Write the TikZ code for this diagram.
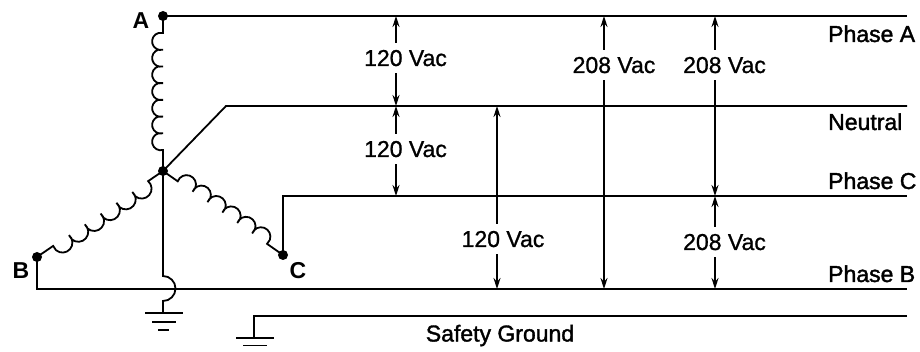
\documentclass[tikz,border=0pt]{standalone}
\usepackage{fontspec}
\setmainfont{Liberation Sans}
\newfontfamily\voltfont[FakeBold=1]{Liberation Sans}
\newfontfamily\medfont[FakeBold=1.6]{Liberation Sans}
\newfontfamily\termfont{Liberation Sans Bold}
\usetikzlibrary{arrows.meta,calc}
\begin{document}
\begin{tikzpicture}[x=1pt,y=-1pt,
  wire/.style={line width=1.8pt, line join=miter},
  dot/.style={circle, fill, inner sep=0pt, minimum size=10pt},
  term/.style={font=\termfont\fontsize{23}{27}\selectfont, inner sep=0pt, anchor=base},
  volt/.style={font=\voltfont\fontsize{23}{27}\selectfont, inner xsep=0pt, inner ysep=7pt, anchor=base},
  busname/.style={font=\medfont\fontsize{23}{27}\selectfont, inner sep=0pt, anchor=base west},
  meas/.style={line width=1.5pt, -{Stealth[length=11pt,width=7pt]}},
  gndbar/.style={line width=1.8pt}]
\useasboundingbox (0,0) rectangle (920,352);
% terminals
\node[dot] (A) at (163,16) {};
\node[dot] (N) at (163,171) {};
\node[dot] (B) at (37,257) {};
\node[dot] (C) at (283,255) {};
\node[term] (lA) at (141,29) {A};
\node[term] (lB) at (21,279) {B};
\node[term] (lC) at (298,279) {C};
% bus ends
\coordinate (busA) at (907,16);
\coordinate (busN) at (907,106);
\coordinate (busC) at (907,196);
\coordinate (busB) at (907,289);
\coordinate (busG) at (907,316);
\coordinate (nk) at (226,106);
\coordinate (ck) at (283,196);
\coordinate (bk) at (37,289);
\coordinate (gk) at (254,316);
\coordinate (gs) at (254,338);
% coils
\coordinate (pA) at (163,150);
\coordinate (pB) at ($(N)!18pt!(B)$);
\coordinate (pC) at ($(N)!18pt!(C)$);
\draw[wire] (N.center) -- (pA) foreach \i in {1,...,7} {arc[start angle=75, end angle=285, radius=8.652]} -- (A.center);
\draw[wire] (N.center) -- (pC) foreach \i in {1,...,6} {arc[start angle=200, end angle=410, radius=9.404]} -- (C.center);
\draw[wire] (N.center) -- (pB) foreach \i in {1,...,6} {arc[start angle=310.7, end angle=520.7, radius=9.921]} -- (B.center);
% buses
\draw[wire] (A.center) -- (busA);
\draw[wire] (N.center) -- (nk) -- (busN);
\draw[wire] (C.center) -- (ck) -- (busC);
\draw[wire] (B.center) -- (bk) -- (busB);
\draw[wire] (busG) -- (gk) -- (gs);
\draw[gndbar] (236,338) -- (274,338);
\draw[gndbar] (243,345.5) -- (267,345.5);
% neutral to ground with jump
\coordinate (j1) at (163,276);
\coordinate (ng) at (163,313);
\draw[wire] (N.center) -- (j1) arc[start angle=270, end angle=450, radius=12.5] -- (ng);
\draw[gndbar] (145,313) -- (183,313);
\draw[gndbar] (152,322) -- (176,322);
\draw[gndbar] (158,330) -- (169,330);
% bus names
\node[busname] (nA) at (828,42) {Phase A};
\node[busname] (nN) at (828,130) {Neutral};
\node[busname] (nC) at (828,189) {Phase C};
\node[busname] (nB) at (828,282) {Phase B};
\node[busname, anchor=base] (nG) at (500,341.5) {Safety Ground};
% voltage labels
\node[volt] (v1) at (405.5,66) {120 Vac};
\node[volt] (v2) at (405.5,157) {120 Vac};
\node[volt] (v3) at (503,247) {120 Vac};
\node[volt] (v4) at (614,73) {208 Vac};
\node[volt] (v5) at (724.5,73) {208 Vac};
\node[volt] (v6) at (724.5,250) {208 Vac};
\coordinate (m1) at (396,0);
\coordinate (m3) at (497,0);
\coordinate (m4) at (604,0);
\coordinate (m5) at (715,0);
\draw[meas] (m1 |- v1.north) -- (m1 |- busA);
\draw[meas] (m1 |- v1.south) -- (m1 |- busN);
\draw[meas] (m1 |- v2.north) -- (m1 |- busN);
\draw[meas] (m1 |- v2.south) -- (m1 |- busC);
\draw[meas] (m3 |- v3.north) -- (m3 |- busN);
\draw[meas] (m3 |- v3.south) -- (m3 |- busB);
\draw[meas] (m4 |- v4.north) -- (m4 |- busA);
\draw[meas] (m4 |- v4.south) -- (m4 |- busB);
\draw[meas] (m5 |- v5.north) -- (m5 |- busA);
\draw[meas] (m5 |- v5.south) -- (m5 |- busC);
\draw[meas] (m5 |- v6.north) -- (m5 |- busC);
\draw[meas] (m5 |- v6.south) -- (m5 |- busB);
\end{tikzpicture}
\end{document}
